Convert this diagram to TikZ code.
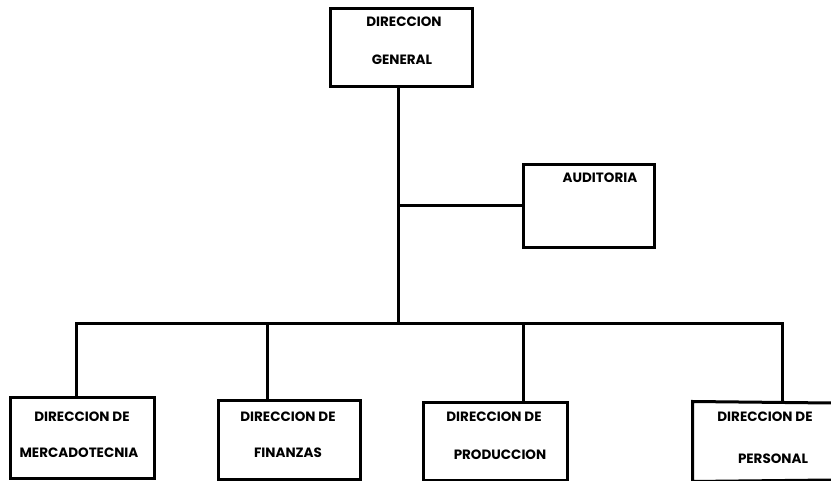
\documentclass[tikz,border=0pt]{standalone}
\usepackage{fontspec}
\setmainfont{Poppins}
\begin{document}
\begin{tikzpicture}[x=1pt,y=-1pt,
  box/.style={draw=black,line width=3pt,rectangle,inner sep=0pt},
  lbl/.style={font=\fontsize{13.5}{15}\selectfont\bfseries,inner sep=0pt,anchor=center},
  conn/.style={line width=3pt,line cap=rect}]
\useasboundingbox (0,0) rectangle (831,481);
\fill[white] (0,0) rectangle (831,481);
% boxes
\node[box,minimum width=142pt,minimum height=78pt] (gen) at (401,48) {};
\node[box,minimum width=131pt,minimum height=83pt] (aud) at (588.5,206.5) {};
\node[box,minimum width=144pt,minimum height=80pt] (mer) at (82,438) {};
\node[box,minimum width=142pt,minimum height=78pt] (fin) at (289,440) {};
\node[box,minimum width=144pt,minimum height=77pt] (pro) at (495,441.5) {};
\node[box,draw=none,minimum width=146pt,minimum height=77pt] (per) at (767,441.5) {};
\draw[conn,line cap=butt] (831,403) -- (per.north west) -- (per.south west) -- (831,480);
% texts
\node[lbl] (g1) at (404,22) {DIRECCION};
\node[lbl] (g2) at (402,60) {GENERAL};
\node[lbl] (a1) at (600,178) {AUDITORIA};
\node[lbl] (m1) at (82,417) {DIRECCION DE};
\node[lbl] (m2) at (79,453) {MERCADOTECNIA};
\node[lbl] (f1) at (288,417) {DIRECCION DE};
\node[lbl] (f2) at (288,453) {FINANZAS};
\node[lbl] (p1) at (494,417) {DIRECCION DE};
\node[lbl] (p2) at (500,455) {PRODUCCION};
\node[lbl] (q1) at (765,417) {DIRECCION DE};
\node[lbl] (q2) at (773,459) {PERSONAL};
% junctions
\coordinate (ja) at (398,206);
\coordinate (jb) at (398,324);
\coordinate (c1) at (76,324);
\coordinate (c2) at (267,324);
\coordinate (c3) at (523,324);
\coordinate (c4) at (782,324);
% connectors
\draw[conn] (gen.south -| jb) -- (jb);
\draw[conn] (ja) -- (aud.west |- ja);
\draw[conn] (c1) -- (c4);
\draw[conn] (c1) -- (c1 |- mer.north);
\draw[conn] (c2) -- (c2 |- fin.north);
\draw[conn] (c3) -- (c3 |- pro.north);
\draw[conn] (c4) -- (c4 |- per.north);
\end{tikzpicture}
\end{document}
